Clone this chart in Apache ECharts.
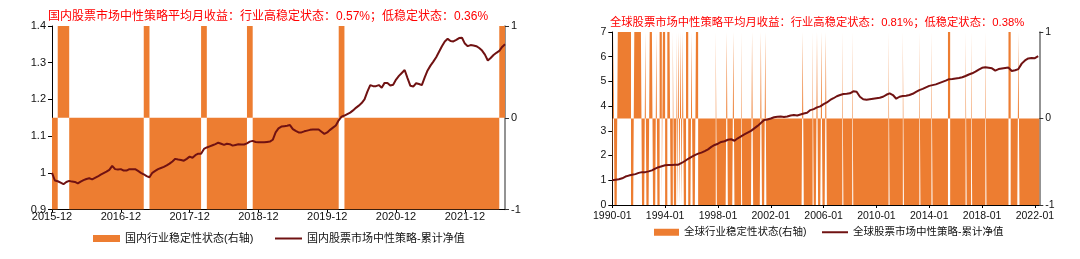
<!DOCTYPE html>
<html><head><meta charset="utf-8">
<script src="https://cdn.jsdelivr.net/npm/echarts@6/dist/echarts.min.js"></script>
<style>html,body{margin:0;padding:0;background:#fff;}#c{width:1080px;height:259px;}</style>
</head><body><div id="c"></div>
<script>
// ---------- Domestic (left) ----------
const domStart = [2015, 12];            // first month of the series
const domTitle = '国内股票市场中性策略平均月收益：行业高稳定状态：0.57%；低稳定状态：0.36%';
const domBarName = '国内行业稳定性状态(右轴)';
const domLineName = '国内股票市场中性策略-累计净值';
// monthly industry stability state (+1 high / -1 low), 2015-12 .. 2022-06
const domState = [
  -1, 1, 1,-1,-1,-1,-1,-1,-1,-1,-1,-1,
  -1,-1,-1,-1, 1,-1,-1,-1,-1,-1,-1,-1,
  -1,-1, 1,-1,-1,-1,-1,-1,-1,-1, 1,-1,
  -1,-1,-1,-1,-1,-1,-1,-1,-1,-1,-1,-1,
  -1,-1, 1,-1,-1,-1,-1,-1,-1,-1,-1,-1,
  -1,-1,-1,-1,-1,-1,-1,-1,-1,-1,-1,-1,
  -1,-1,-1,-1,-1,-1, 1
];
// cumulative NAV, sampled every half month from 2015-12
const domNavStep = 0.5;
const domNav = [
  1.000,0.979,0.977,0.973,0.969,0.975,0.978,0.976,0.975,0.971,
  0.976,0.980,0.983,0.985,0.982,0.986,0.990,0.995,0.999,1.003,
  1.008,1.019,1.010,1.009,1.010,1.006,1.006,1.010,1.010,1.010,
  1.005,1.000,0.996,0.991,0.988,1.000,1.005,1.010,1.013,1.016,
  1.020,1.025,1.031,1.038,1.036,1.035,1.033,1.038,1.044,1.041,
  1.048,1.052,1.052,1.065,1.069,1.072,1.075,1.078,1.082,1.079,
  1.076,1.079,1.078,1.074,1.076,1.078,1.077,1.077,1.080,1.085,
  1.087,1.084,1.083,1.083,1.083,1.084,1.085,1.090,1.110,1.121,
  1.126,1.127,1.128,1.130,1.119,1.114,1.110,1.110,1.113,1.115,
  1.117,1.118,1.118,1.118,1.112,1.106,1.110,1.117,1.123,1.129,
  1.143,1.153,1.156,1.160,1.164,1.170,1.177,1.183,1.190,1.200,
  1.221,1.239,1.236,1.236,1.239,1.232,1.245,1.245,1.238,1.240,
  1.254,1.264,1.272,1.280,1.258,1.237,1.235,1.244,1.242,1.239,
  1.260,1.279,1.292,1.303,1.315,1.330,1.345,1.358,1.365,1.359,
  1.358,1.362,1.367,1.368,1.352,1.345,1.348,1.347,1.345,1.340,
  1.333,1.322,1.306,1.313,1.321,1.327,1.332,1.343,1.350
];
const domYTicks = { min: 0.9, max: 1.4, interval: 0.1 };

// ---------- Global (right) ----------
const glbStart = [1990, 1];
const glbTitle = '全球股票市场中性策略平均月收益：行业高稳定状态：0.81%；低稳定状态：0.38%';
const glbBarName = '全球行业稳定性状态(右轴)';
const glbLineName = '全球股票市场中性策略-累计净值';
// monthly industry stability state, 1990-01 .. 2022-04
const glbState = [
  -1, 1,-1,-1,-1, 1, 1, 1, 1, 1, 1, 1,   // 1990
   1, 1, 1, 1, 1,-1,-1,-1, 1, 1, 1, 1,   // 1991
   1, 1, 1,-1,-1,-1, 1,-1,-1,-1, 1, 1,   // 1992
   1,-1,-1,-1, 1,-1,-1, 1, 1,-1, 1, 1,   // 1993
  -1,-1, 1, 1, 1,-1,-1, 1,-1,-1, 1,-1,   // 1994
   1,-1, 1,-1, 1,-1,-1, 1, 1,-1,-1,-1,   // 1995
   1,-1,-1,-1, 1, 1,-1,-1,-1,-1,-1,-1,   // 1996
  -1,-1,-1,-1,-1,-1,-1,-1,-1,-1, 1,-1,   // 1997
  -1,-1,-1,-1,-1,-1,-1,-1, 1,-1,-1,-1,   // 1998
  -1,-1, 1,-1,-1,-1,-1,-1,-1, 1,-1,-1,   // 1999
  -1,-1,-1,-1,-1,-1,-1, 1,-1,-1,-1,-1,   // 2000
  -1,-1,-1, 1,-1,-1,-1, 1,-1,-1,-1,-1,   // 2001
  -1,-1,-1,-1,-1,-1,-1,-1,-1,-1,-1,-1,   // 2002
  -1,-1,-1,-1,-1,-1,-1,-1,-1,-1,-1,-1,   // 2003
  -1,-1,-1,-1,-1, 1,-1,-1,-1,-1,-1,-1,   // 2004
  -1,-1, 1,-1,-1,-1, 1,-1,-1,-1, 1,-1,   // 2005
  -1,-1, 1,-1,-1,-1,-1,-1,-1,-1,-1,-1,   // 2006
  -1,-1,-1,-1,-1, 1,-1,-1,-1,-1,-1,-1,   // 2007
  -1,-1, 1,-1,-1,-1,-1,-1,-1,-1,-1,-1,   // 2008
  -1,-1,-1,-1,-1,-1,-1,-1,-1,-1,-1,-1,   // 2009
  -1,-1,-1,-1,-1,-1,-1,-1,-1,-1,-1, 1,   // 2010
  -1,-1,-1,-1,-1,-1,-1,-1,-1,-1,-1,-1,   // 2011
   1,-1,-1,-1,-1,-1,-1,-1,-1,-1,-1,-1,   // 2012
  -1,-1,-1, 1,-1,-1,-1,-1,-1,-1,-1,-1,   // 2013
  -1,-1, 1,-1,-1,-1,-1,-1,-1,-1,-1,-1,   // 2014
  -1,-1,-1,-1,-1, 1, 1,-1,-1,-1,-1,-1,   // 2015
  -1,-1,-1,-1,-1,-1,-1,-1,-1, 1,-1,-1,   // 2016
  -1,-1, 1,-1,-1,-1,-1,-1,-1,-1,-1,-1,   // 2017
  -1,-1,-1, 1,-1,-1,-1,-1,-1,-1,-1,-1,   // 2018
  -1,-1,-1,-1,-1,-1,-1,-1,-1,-1,-1,-1,   // 2019
   1, 1,-1,-1,-1,-1,-1,-1,-1, 1,-1,-1,   // 2020
  -1,-1,-1,-1,-1,-1,-1,-1,-1,-1,-1,-1,   // 2021
  -1,-1,-1,-1                            // 2022
];
// cumulative NAV, sampled every 3 months from 1990-01
const glbNavStep = 3;
const glbNav = [
  1.00,1.02,1.04,1.08,1.15,1.19,1.22,1.25,1.30,1.33,
  1.33,1.36,1.40,1.47,1.53,1.57,1.61,1.62,1.62,1.63,
  1.63,1.70,1.78,1.87,1.95,2.02,2.08,2.12,2.18,2.25,
  2.35,2.43,2.48,2.55,2.58,2.64,2.66,2.60,2.70,2.78,
  2.86,2.93,3.00,3.10,3.20,3.32,3.44,3.46,3.50,3.55,
  3.57,3.58,3.56,3.58,3.62,3.64,3.62,3.66,3.70,3.73,
  3.84,3.88,3.95,3.99,4.08,4.15,4.25,4.32,4.40,4.45,
  4.49,4.50,4.52,4.60,4.58,4.38,4.28,4.26,4.28,4.30,
  4.32,4.34,4.38,4.46,4.52,4.45,4.30,4.38,4.41,4.42,
  4.45,4.50,4.58,4.65,4.70,4.76,4.82,4.85,4.88,4.93,
  4.98,5.03,5.09,5.10,5.12,5.14,5.17,5.22,5.28,5.33,
  5.40,5.48,5.55,5.57,5.55,5.53,5.44,5.50,5.52,5.54,
  5.56,5.42,5.45,5.50,5.72,5.85,5.93,5.95,5.94,6.02
];
const glbYTicks = { min: 0, max: 7, interval: 1 };

// ---------- styling ----------
const ORANGE = '#ED7D31';
const MAROON = '#701212';
const FONT = '"Liberation Sans", Arial, "Noto Sans CJK SC", sans-serif';

function monthLabel(start, step) {
  return function (v) {
    if (Math.round(v) % step !== 0) return '';
    const t = start[0] * 12 + (start[1] - 1) + Math.round(v);
    return Math.floor(t / 12) + '-' + String(t % 12 + 1).padStart(2, '0');
  };
}
// each month's state spans [i, i+1]; the closing point repeats the last state
function stateSteps(state) {
  const pts = state.map((v, i) => [i, v]);
  pts.push([state.length, state[state.length - 1]]);
  return pts;
}

function xAxisCfg(grid, n, step, start, fs, margin) {
  return {
    type: 'value', gridIndex: grid, min: 0, max: n, interval: step,
    axisLine: { show: true, onZero: false, lineStyle: { color: '#000', width: 1 } },
    axisTick: { show: true, inside: false, length: 3, lineStyle: { color: '#000' } },
    axisLabel: { formatter: monthLabel(start, step), showMaxLabel: false, fontSize: fs,
                 color: '#111', fontFamily: FONT, margin: margin },
    splitLine: { show: false }
  };
}
function yLeftCfg(grid, t, fs) {
  return {
    type: 'value', gridIndex: grid, position: 'left', min: t.min, max: t.max, interval: t.interval,
    axisLine: { show: true, lineStyle: { color: '#000', width: 1 } },
    axisTick: { show: true, inside: false, length: 4, lineStyle: { color: '#000' } },
    axisLabel: { fontSize: fs, color: '#111', fontFamily: FONT, margin: 6 },
    splitLine: { show: false }
  };
}
function yRightCfg(grid, fs) {
  return {
    type: 'value', gridIndex: grid, position: 'right', min: -1, max: 1, interval: 1,
    axisLine: { show: true, lineStyle: { color: '#6f6f6f', width: 1.5 } },
    axisTick: { show: true, inside: false, length: 4, lineStyle: { color: '#333' } },
    axisLabel: { fontSize: fs, color: '#111', fontFamily: FONT, margin: 6 },
    splitLine: { show: false }
  };
}
function stateSeries(name, xi, yi, state) {
  return { name: name, type: 'line', step: 'end', xAxisIndex: xi, yAxisIndex: yi,
    symbol: 'none', lineStyle: { width: 0, color: ORANGE }, itemStyle: { color: ORANGE },
    areaStyle: { color: ORANGE, opacity: 1, origin: 'auto' }, z: 1,
    data: stateSteps(state) };
}
function navSeries(name, xi, yi, nav, step) {
  return { name: name, type: 'line', xAxisIndex: xi, yAxisIndex: yi, symbol: 'none', z: 3,
    lineStyle: { color: MAROON, width: 2 }, itemStyle: { color: MAROON },
    data: nav.map((v, j) => [j * step, v]) };
}
function legendCfg(name, left, top, w, h, fs) {
  return { data: [name], left: left, top: top, icon: 'rect', itemWidth: w, itemHeight: h,
    padding: 0, selectedMode: false,
    textStyle: { fontSize: fs, color: '#111', fontFamily: FONT } };
}

const option = {
  animation: false,
  backgroundColor: '#fff',
  title: [
    { text: domTitle, left: 48, top: 11, padding: 0,
      textStyle: { color: '#FF0000', fontSize: 12, fontWeight: 'normal', fontFamily: FONT } },
    { text: glbTitle, left: 610, top: 17.5, padding: 0,
      textStyle: { color: '#FF0000', fontSize: 11.3, fontWeight: 'normal', fontFamily: FONT } }
  ],
  grid: [
    { left: 52, top: 26, width: 453, height: 183.5 },
    { left: 612.3, top: 32, width: 427, height: 173 }
  ],
  xAxis: [
    xAxisCfg(0, domState.length, 12, domStart, 11, 2),
    xAxisCfg(1, glbState.length, 48, glbStart, 10.5, 6)
  ],
  yAxis: [
    yLeftCfg(0, domYTicks, 11),
    yRightCfg(0, 11),
    yLeftCfg(1, glbYTicks, 10.5),
    yRightCfg(1, 10.5)
  ],
  legend: [
    legendCfg(domBarName, 93, 233, 27, 7, 11),
    legendCfg(domLineName, 275, 233, 27, 2, 11),
    legendCfg(glbBarName, 654, 227, 25, 7, 10.5),
    legendCfg(glbLineName, 822, 227, 26, 2, 10.5)
  ],
  series: [
    stateSeries(domBarName, 0, 1, domState),
    navSeries(domLineName, 0, 0, domNav, domNavStep),
    stateSeries(glbBarName, 1, 3, glbState),
    navSeries(glbLineName, 1, 2, glbNav, glbNavStep)
  ]
};
const chart = echarts.init(document.getElementById('c'), null, { renderer: 'canvas' });
chart.setOption(option);
</script></body></html>
